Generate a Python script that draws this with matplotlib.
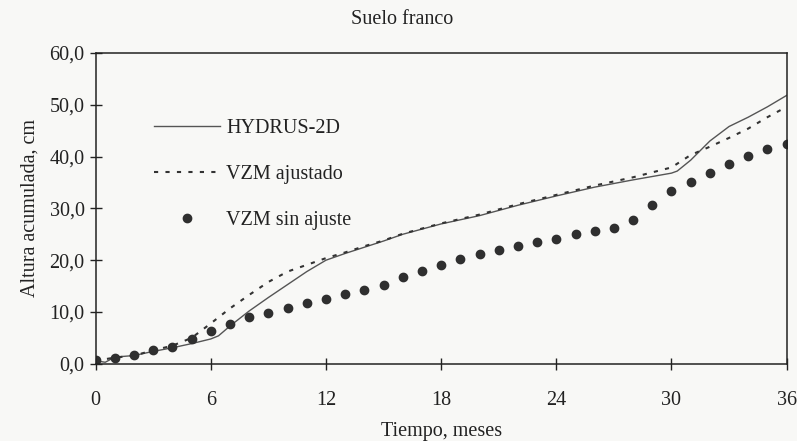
import matplotlib
matplotlib.use("Agg")
import matplotlib.pyplot as plt
from matplotlib.ticker import FuncFormatter

# HYDRUS-2D (solid line)
hydrus_t = [0, 0.5, 1, 2, 3, 4, 5, 6, 6.4, 7, 8, 9, 10, 11, 12, 13, 14, 15,
            16, 18, 20, 22, 24, 26, 28, 30, 30.3, 31, 32, 33, 34, 35, 36]
hydrus_h = [0.6, 0.3, 1.3, 1.6, 2.4, 3.1, 3.9, 4.8, 5.4, 7.3, 10.2, 12.8,
            15.3, 17.8, 20.0, 21.3, 22.5, 23.7, 25.0, 27.0, 28.6, 30.6, 32.4,
            34.1, 35.5, 36.8, 37.2, 39.3, 43.0, 45.8, 47.6, 49.6, 51.8]

# VZM ajustado (dotted line)
ajust_t = [0, 1, 2, 3, 4, 5, 6, 7, 8, 9, 10, 11, 12, 13, 14, 15, 16, 18, 20,
           22, 24, 26, 28, 30, 31, 32, 33, 34, 35, 36]
ajust_h = [0.6, 1.2, 1.6, 2.6, 3.5, 5.0, 7.8, 10.7, 13.3, 15.8, 17.8, 19.1,
           20.4, 21.5, 22.7, 23.8, 25.1, 27.1, 28.8, 30.8, 32.6, 34.4, 36.0,
           37.9, 40.3, 41.9, 43.6, 45.4, 47.6, 49.6]

# VZM sin ajuste (monthly dots)
sin_t = list(range(0, 37))
sin_h = [0.8, 1.2, 1.7, 2.6, 3.2, 4.8, 6.4, 7.6, 9.0, 9.8, 10.7, 11.7, 12.6,
         13.5, 14.2, 15.3, 16.7, 18.0, 19.0, 20.2, 21.2, 21.9, 22.7, 23.5,
         24.1, 25.1, 25.6, 26.3, 27.8, 30.6, 33.3, 35.0, 36.9, 38.5, 40.1,
         41.4, 42.4]

x_ticks = [0, 6, 12, 18, 24, 30, 36]
y_ticks = [0, 10, 20, 30, 40, 50, 60]

plt.rcParams["font.family"] = ["Liberation Serif", "DejaVu Serif"]

fig = plt.figure(figsize=(7.97, 4.41), dpi=100, facecolor="#f8f8f6")
ax = fig.add_axes([0.12, 0.175, 0.867, 0.705])
ax.set_facecolor("#f8f8f6")

ax.plot(hydrus_t, hydrus_h, color="#555555", lw=1.0, label="HYDRUS-2D")
ax.plot(ajust_t, ajust_h, color="#333333", lw=1.5, linestyle=(0, (2, 3.5)),
        label="VZM ajustado")
ax.plot(sin_t, sin_h, linestyle="none", marker="o", ms=6,
        color="#2f2f2f", label="VZM sin ajuste")

ax.set_xlim(0, 36)
ax.set_ylim(0, 60)
ax.set_xticks(x_ticks)
ax.set_yticks(y_ticks)
ax.yaxis.set_major_formatter(FuncFormatter(lambda v, p: f"{v:.1f}".replace(".", ",")))
ax.tick_params(direction="inout", length=8, width=1, labelsize=14.5,
               colors="#222222")
ax.tick_params(axis="x", pad=15.5)
ax.tick_params(axis="y", pad=4)
for s in ax.spines.values():
    s.set_color("#222222")
    s.set_linewidth(1.1)

ax.set_xlabel("Tiempo, meses", fontsize=14.5, color="#222222", labelpad=9)
ax.set_ylabel("Altura acumulada, cm", fontsize=14.5, color="#222222", labelpad=7)
fig.text(0.505, 0.955, "Suelo franco", fontsize=14.5, color="#222222",
         ha="center", va="center")

ax.legend(loc="upper left", bbox_to_anchor=(0.058, 0.845), frameon=False,
          fontsize=14.5, handlelength=3.3, labelspacing=1.33, handletextpad=0.3,
          labelcolor="#222222")

fig.savefig("out.png", dpi=100, facecolor=fig.get_facecolor())
